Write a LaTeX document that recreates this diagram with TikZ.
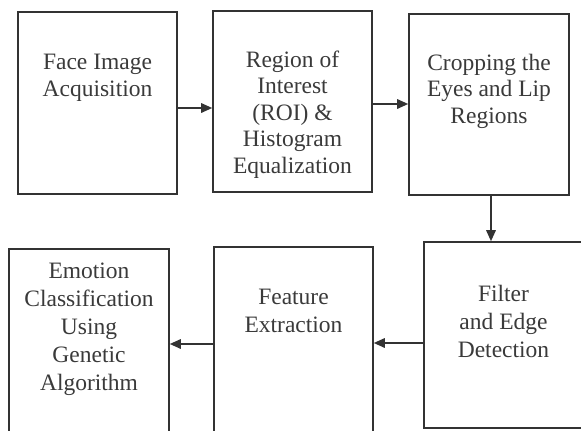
\documentclass[tikz,border=0pt]{standalone}
\usepackage{fontspec}
\setmainfont{Liberation Serif}
\usetikzlibrary{arrows.meta}
\definecolor{ink}{HTML}{333333}
\definecolor{txt}{HTML}{3A3A3A}
\tikzset{
  box/.style={draw=ink, line width=1.6pt, inner sep=0pt},
  lbl/.style={text=txt, align=center, anchor=base, inner sep=0pt},
  lbltop/.style={lbl, font=\fontsize{23.5}{26.5}\selectfont},
  lblbot/.style={lbl, font=\fontsize{23.5}{28}\selectfont},
  conn/.style={draw=ink, line width=1.6pt, -{Triangle[length=11pt,width=9.5pt]}}
}
\begin{document}
\begin{tikzpicture}[x=1pt,y=-1pt]
\useasboundingbox (0,0) rectangle (581,431);
\fill[white] (0,0) rectangle (581,431);
\begin{scope}
\clip (0,0) rectangle (581,431);
% boxes
\node[box, minimum width=159pt, minimum height=182pt] (n1) at (97.5,103) {};
\node[box, minimum width=159pt, minimum height=181pt] (n2) at (292.5,101.5) {};
\node[box, minimum width=160pt, minimum height=181pt] (n3) at (489,104.5) {};
\node[box, minimum width=159pt, minimum height=186pt] (n4) at (503.5,335) {};
\node[box, minimum width=159pt, minimum height=193pt] (n5) at (293.5,343.5) {};
\node[box, minimum width=160pt, minimum height=191pt] (n6) at (89,344.5) {};
% labels (anchored at the baseline of the last line)
\node[lbltop] (t1) at (97.5,96) {Face Image\\Acquisition};
\node[lbltop] (t2) at (292.5,173) {Region of\\Interest\\(ROI) \&\\Histogram\\Equalization};
\node[lbltop] (t3) at (489,123) {Cropping the\\Eyes and Lip\\Regions};
\node[lblbot] (t4) at (503.5,357) {Filter\\and Edge\\Detection};
\node[lblbot] (t5) at (293.5,332) {Feature\\Extraction};
\node[lblbot] (t6) at (89,390) {Emotion\\Classification\\Using\\Genetic\\Algorithm};
% connectors
\draw[conn] (n1.east |- 0,108) -- (n2.west |- 0,108);
\draw[conn] (n2.east |- 0,104) -- (n3.west |- 0,104);
\draw[conn] (n3.south -| 491,0) -- (n4.north -| 491,0);
\draw[conn] (n4.west |- 0,343) -- (n5.east |- 0,343);
\draw[conn] (n5.west |- 0,344) -- (n6.east |- 0,344);
\end{scope}
\end{tikzpicture}
\end{document}
